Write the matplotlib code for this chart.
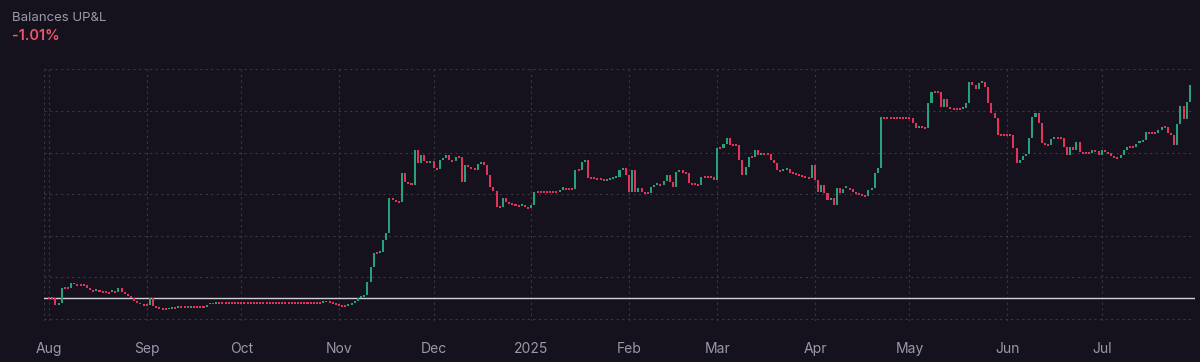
import numpy as np
import pandas as pd
import matplotlib
matplotlib.use("Agg")
import matplotlib.pyplot as plt
import matplotlib.dates as mdates

#
# --- Daily closing values (arbitrary units)
#
AUG = [0.0, 0.0, -1.6, -1.2, 2.5, 2.5, 2.5, 3.7, 3.5, 3.2, 3.2, 3.2, 2.5, 2.0, 1.7, 2.0,
       1.5, 1.5, 1.4, 1.3, 1.7, 1.5, 2.5, 1.5, 1.0, 0.5, 0.0, -0.7, -1.0, -1.3, -1.6]
SEP = [-1.6, 0.0, -1.9, -2.1, -2.4, -2.6, -2.6, -2.5, -2.4, -2.4, -2.2, -2.2, -2.2, -2.2, -2.1,
       -2.1, -2.1, -2.1, -2.1, -1.6, -1.3, -1.3, -1.2, -1.2, -1.2, -1.2, -1.2, -1.2, -1.2, -1.2]
OCT = [-1.2, -1.2, -1.2, -1.2, -1.2, -1.2, -1.2, -1.2, -1.2, -1.2, -1.2, -1.2, -1.2, -1.2, -1.2,
       -1.2, -1.2, -1.2, -1.2, -1.2, -1.2, -1.2, -1.2, -1.2, -1.2, -1.2, -0.9, -0.8, -0.9, -1.2, -1.4]
NOV = [-1.6, -1.9, -1.9, -1.6, -1.2, -0.7, 0.0, 0.3, 0.8, 3.9, 7.5, 10.9, 10.9, 11.1, 14.0,
       15.7, 24.1, 23.6, 23.1, 23.1, 30.1, 27.9, 27.7, 27.2, 35.6, 32.5, 34.4, 33.0, 32.5, 33.0]
DEC = [31.3, 31.1, 33.2, 33.7, 34.4, 33.2, 33.0, 33.9, 33.9, 27.9, 32.0, 31.5, 31.3, 30.8, 32.3,
       32.7, 32.0, 29.6, 26.7, 25.8, 21.9, 21.9, 24.1, 23.1, 22.9, 22.6, 22.4, 22.2, 22.4, 21.9, 21.7]
JAN = [22.4, 25.5, 25.5, 25.5, 25.5, 25.5, 25.5, 25.5, 25.5, 26.0, 26.7, 26.3, 26.3, 26.3, 30.8,
       30.8, 32.7, 33.2, 28.9, 28.9, 28.9, 28.7, 28.7, 28.2, 28.4, 28.7, 28.9, 29.1, 30.8, 31.3, 29.6]
FEB = [25.5, 30.8, 25.5, 26.5, 25.5, 25.3, 25.3, 26.7, 27.2, 27.5, 27.2, 28.2, 29.6, 27.9,
       26.7, 30.3, 30.8, 30.1, 30.1, 27.7, 27.5, 27.5, 27.2, 29.1, 29.1, 29.1, 29.1, 28.4]
MAR = [36.1, 36.1, 37.1, 38.5, 36.8, 36.8, 36.8, 33.2, 29.6, 31.5, 33.9, 33.9, 35.6, 34.4, 34.7,
       34.7, 34.7, 33.2, 32.5, 30.8, 30.6, 30.8, 31.1, 30.1, 30.1, 29.6, 29.6, 29.1, 29.1, 28.9, 32.0]
APR = [28.4, 25.5, 27.2, 25.3, 23.6, 24.1, 22.4, 26.5, 25.3, 26.3, 26.7, 26.3, 25.5, 25.3, 25.0,
       24.8, 24.6, 26.0, 26.5, 30.1, 31.3, 43.6, 43.3, 43.3, 43.3, 43.3, 43.3, 43.3, 43.3, 43.3]
MAY = [43.3, 42.1, 40.9, 41.4, 40.9, 40.9, 46.9, 49.6, 49.6, 49.6, 46.0, 47.9, 46.0, 45.5, 45.5,
       45.5, 45.5, 45.7, 46.9, 52.0, 51.3, 50.3, 51.7, 52.0, 50.8, 46.9, 44.5, 43.3, 39.2, 39.2, 39.2]
JUN = [39.2, 39.2, 36.1, 32.5, 33.2, 34.2, 34.7, 38.5, 43.6, 44.5, 42.1, 37.3, 36.8, 36.8, 38.3,
       38.5, 38.5, 38.5, 36.3, 34.4, 36.3, 35.6, 37.5, 35.1, 34.9, 34.9, 34.9, 35.6, 35.4, 34.4]
JUL = [35.6, 35.1, 34.9, 34.2, 33.7, 33.7, 34.4, 35.6, 36.3, 36.3, 36.3, 37.1, 37.5, 38.0, 40.0,
       39.7, 39.7, 39.7, 40.4, 41.2, 41.2, 39.7, 39.2, 36.8, 41.9, 46.2, 43.1, 47.2, 51.3]

TITLE = "Balances UP&L"
CHANGE = "-1.01%"
START_DATE = "2024-08-01"

BG = "#15121e"
GREEN = "#26a17b"
RED = "#e2335a"
GRID = "#3a3547"
TEXT = "#9a98aa"

closes = np.array(AUG + SEP + OCT + NOV + DEC + JAN + FEB + MAR + APR + MAY + JUN + JUL)
opens = np.concatenate([[closes[0]], closes[:-1]])
dates = pd.date_range(START_DATE, periods=len(closes), freq="D")
xnum = mdates.date2num(dates)

body_lo = np.minimum(opens, closes)
body_h = np.abs(closes - opens)
flat = body_h < 0.4
# doji: small centred dot
body_lo = np.where(flat, closes - 0.22, body_lo)
body_h = np.where(flat, 0.44, body_h)
colors = np.where(closes > opens, GREEN, RED)

plt.rcParams["font.family"] = ["Inter", "DejaVu Sans"]
fig = plt.figure(figsize=(12, 3.62), dpi=100, facecolor=BG)
ax = fig.add_axes([0.0367, 0.1133, 0.9591, 0.6961], facecolor=BG)

#
# --- Grid
#
for y in np.arange(-5, 56, 10):
    ax.axhline(y, color=GRID, lw=0.8, ls=(0, (2, 3)), zorder=0)
months = pd.date_range("2024-08-01", "2025-07-01", freq="MS")
for m in months:
    ax.axvline(mdates.date2num(m), color=GRID, lw=0.8, ls=(0, (2, 3)), zorder=0)
ax.axvline(xnum[0] - 1.6, color=GRID, lw=0.8, ls=(0, (2, 3)), zorder=0)

ax.axhline(0, color="#cfcfd8", lw=1.0, zorder=1)

#
# --- Candles
#
ax.bar(xnum, body_h, bottom=body_lo, width=0.64, color=colors, linewidth=0, zorder=2)

ax.set_xlim(xnum[0] - 1.6, xnum[0] + 363.6)
ax.set_ylim(-5.5, 55.1)
for s in ax.spines.values():
    s.set_visible(False)
ax.set_yticks([])
ax.set_xticks(mdates.date2num(months))
ax.set_xticklabels([str(m.year) if m.month == 1 else m.strftime("%b") for m in months])
ax.tick_params(axis="x", length=0, pad=15, labelsize=10, labelcolor=TEXT)

#
# --- Header
#
fig.text(12 / 1200, 1 - 18 / 362, TITLE, color=TEXT, fontsize=9.5, va="center", ha="left")
fig.text(12 / 1200, 1 - 36 / 362, CHANGE, color="#f2546b", fontsize=10.5,
         fontweight="semibold", va="center", ha="left")

fig.savefig("out.png", dpi=100, facecolor=BG)
